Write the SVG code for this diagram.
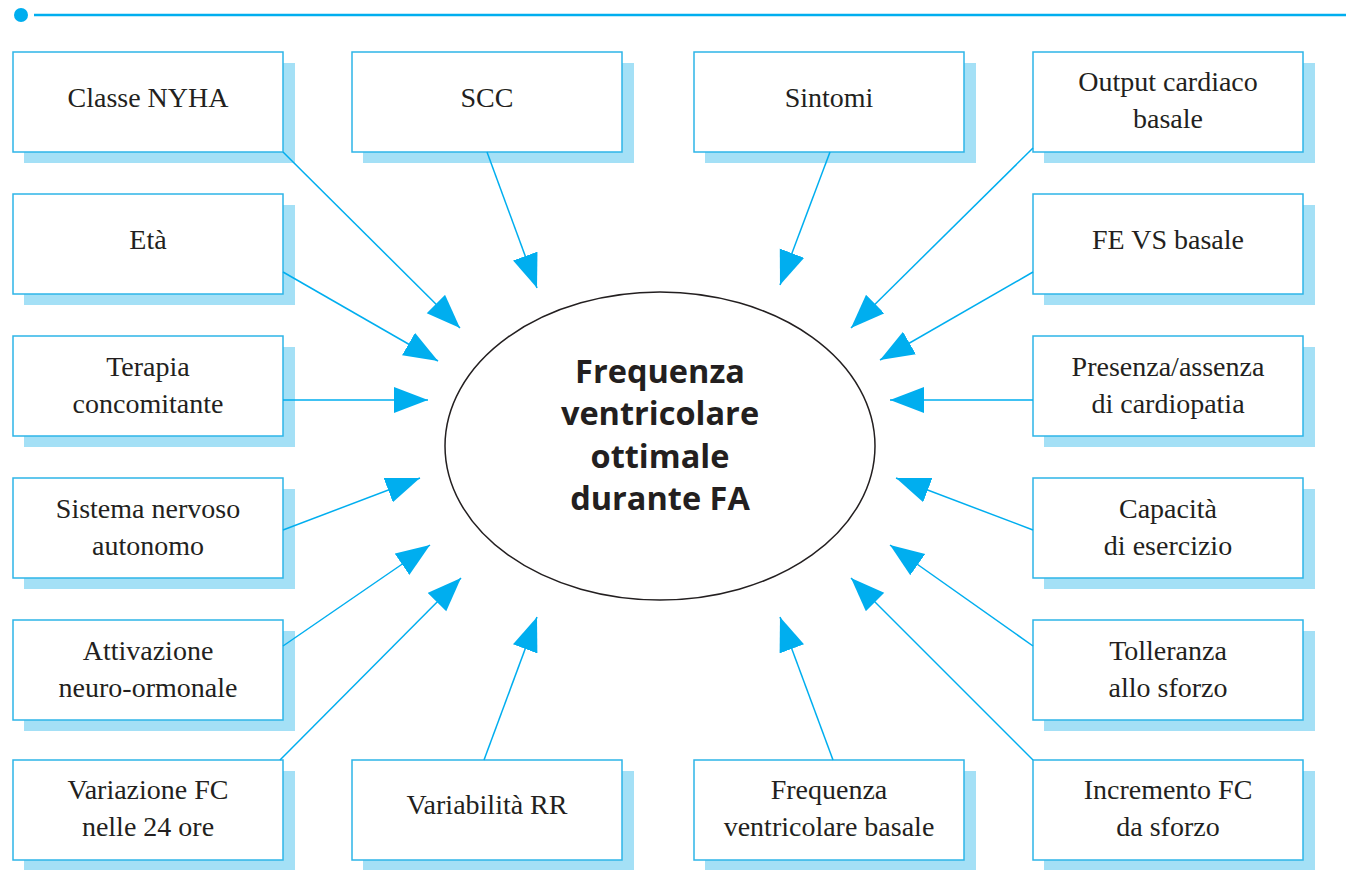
<svg xmlns="http://www.w3.org/2000/svg" width="1346" height="870" viewBox="0 0 1346 870">
  <defs>
    <style>
      .shadow { fill: #a4e0f6; }
      .box { fill: #ffffff; stroke: #2eb5e8; stroke-width: 1.5; }
      .lbl { font-family: "Liberation Serif", "Times New Roman", serif; font-size: 28px; fill: #231f20; text-anchor: middle; }
      .conn { stroke: #00aeef; stroke-width: 1.5; fill: none; marker-end: url(#head); }
      .title { font-family: "Open Sans", "DejaVu Sans", sans-serif; font-weight: 700; font-size: 32.5px; fill: #231f20; text-anchor: middle; }
    </style>
    <marker id="head" markerUnits="userSpaceOnUse" markerWidth="36" markerHeight="28" refX="34" refY="13" orient="auto">
      <path d="M0,0 L34,13 L0,26 Z" fill="#00aeef"/>
    </marker>
  </defs>

  <!-- header rule -->
  <g id="header">
    <circle cx="21" cy="15" r="7" fill="#00aeef"/>
    <line x1="34" y1="15" x2="1346" y2="15" stroke="#00aeef" stroke-width="2.5"/>
  </g>

  <!-- central ellipse -->
  <g id="center">
    <ellipse cx="660" cy="446" rx="215" ry="154" fill="#ffffff" stroke="#231f20" stroke-width="1.5"/>
    <text class="title" x="660" y="383">Frequenza</text>
    <text class="title" x="660" y="425">ventricolare</text>
    <text class="title" x="660" y="468">ottimale</text>
    <text class="title" x="660" y="510">durante FA</text>
  </g>

  <!-- left column -->
  <g id="classe-nyha">
    <rect class="shadow" x="24" y="63" width="271" height="100"/>
    <rect class="box" x="13" y="52" width="270" height="100"/>
    <text class="lbl" x="148" y="107">Classe NYHA</text>
  </g>
  <g id="eta">
    <rect class="shadow" x="24" y="205" width="271" height="100"/>
    <rect class="box" x="13" y="194" width="270" height="100"/>
    <text class="lbl" x="148" y="249">Età</text>
  </g>
  <g id="terapia">
    <rect class="shadow" x="24" y="347" width="271" height="100"/>
    <rect class="box" x="13" y="336" width="270" height="100"/>
    <text class="lbl" x="148" y="376">Terapia</text>
    <text class="lbl" x="148" y="413">concomitante</text>
  </g>
  <g id="sistema-nervoso">
    <rect class="shadow" x="24" y="489" width="271" height="100"/>
    <rect class="box" x="13" y="478" width="270" height="100"/>
    <text class="lbl" x="148" y="518">Sistema nervoso</text>
    <text class="lbl" x="148" y="555">autonomo</text>
  </g>
  <g id="attivazione">
    <rect class="shadow" x="24" y="631" width="271" height="100"/>
    <rect class="box" x="13" y="620" width="270" height="100"/>
    <text class="lbl" x="148" y="660">Attivazione</text>
    <text class="lbl" x="148" y="697">neuro-ormonale</text>
  </g>
  <g id="variazione-fc">
    <rect class="shadow" x="24" y="771" width="271" height="100"/>
    <rect class="box" x="13" y="760" width="270" height="100"/>
    <text class="lbl" x="148" y="799">Variazione FC</text>
    <text class="lbl" x="148" y="836">nelle 24 ore</text>
  </g>

  <!-- top middle -->
  <g id="scc">
    <rect class="shadow" x="363" y="63" width="271" height="100"/>
    <rect class="box" x="352" y="52" width="270" height="100"/>
    <text class="lbl" x="487" y="107">SCC</text>
  </g>
  <g id="sintomi">
    <rect class="shadow" x="705" y="63" width="271" height="100"/>
    <rect class="box" x="694" y="52" width="270" height="100"/>
    <text class="lbl" x="829" y="107">Sintomi</text>
  </g>

  <!-- bottom middle -->
  <g id="variabilita-rr">
    <rect class="shadow" x="363" y="771" width="271" height="100"/>
    <rect class="box" x="352" y="760" width="270" height="100"/>
    <text class="lbl" x="487" y="814">Variabilità RR</text>
  </g>
  <g id="frequenza-basale">
    <rect class="shadow" x="705" y="771" width="271" height="100"/>
    <rect class="box" x="694" y="760" width="270" height="100"/>
    <text class="lbl" x="829" y="799">Frequenza</text>
    <text class="lbl" x="829" y="836">ventricolare basale</text>
  </g>

  <!-- right column -->
  <g id="output-cardiaco">
    <rect class="shadow" x="1044" y="63" width="271" height="100"/>
    <rect class="box" x="1033" y="52" width="270" height="100"/>
    <text class="lbl" x="1168" y="91">Output cardiaco</text>
    <text class="lbl" x="1168" y="128">basale</text>
  </g>
  <g id="fe-vs">
    <rect class="shadow" x="1044" y="205" width="271" height="100"/>
    <rect class="box" x="1033" y="194" width="270" height="100"/>
    <text class="lbl" x="1168" y="249">FE VS basale</text>
  </g>
  <g id="cardiopatia">
    <rect class="shadow" x="1044" y="347" width="271" height="100"/>
    <rect class="box" x="1033" y="336" width="270" height="100"/>
    <text class="lbl" x="1168" y="376">Presenza/assenza</text>
    <text class="lbl" x="1168" y="413">di cardiopatia</text>
  </g>
  <g id="capacita">
    <rect class="shadow" x="1044" y="489" width="271" height="100"/>
    <rect class="box" x="1033" y="478" width="270" height="100"/>
    <text class="lbl" x="1168" y="518">Capacità</text>
    <text class="lbl" x="1168" y="555">di esercizio</text>
  </g>
  <g id="tolleranza">
    <rect class="shadow" x="1044" y="631" width="271" height="100"/>
    <rect class="box" x="1033" y="620" width="270" height="100"/>
    <text class="lbl" x="1168" y="660">Tolleranza</text>
    <text class="lbl" x="1168" y="697">allo sforzo</text>
  </g>
  <g id="incremento-fc">
    <rect class="shadow" x="1044" y="771" width="271" height="100"/>
    <rect class="box" x="1033" y="760" width="270" height="100"/>
    <text class="lbl" x="1168" y="799">Incremento FC</text>
    <text class="lbl" x="1168" y="836">da sforzo</text>
  </g>

  <!-- connectors, drawn over the box shadows -->
  <g id="connectors">
    <line class="conn" x1="283" y1="152" x2="460" y2="328"/>
    <line class="conn" x1="487" y1="152" x2="537" y2="288"/>
    <line class="conn" x1="830" y1="152" x2="780" y2="285"/>
    <line class="conn" x1="1033" y1="148" x2="851" y2="328"/>
    <line class="conn" x1="283" y1="272" x2="438" y2="361"/>
    <line class="conn" x1="1033" y1="272" x2="880" y2="360"/>
    <line class="conn" x1="283" y1="400" x2="428" y2="400"/>
    <line class="conn" x1="1033" y1="400" x2="890" y2="400"/>
    <line class="conn" x1="283" y1="530" x2="420" y2="478"/>
    <line class="conn" x1="1033" y1="530" x2="896" y2="478"/>
    <line class="conn" x1="283" y1="646" x2="430" y2="545"/>
    <line class="conn" x1="1033" y1="646" x2="890" y2="545"/>
    <line class="conn" x1="280" y1="760" x2="461" y2="578"/>
    <line class="conn" x1="484" y1="760" x2="537" y2="617"/>
    <line class="conn" x1="833" y1="760" x2="780" y2="617"/>
    <line class="conn" x1="1033" y1="760" x2="851" y2="578"/>
  </g>
</svg>
